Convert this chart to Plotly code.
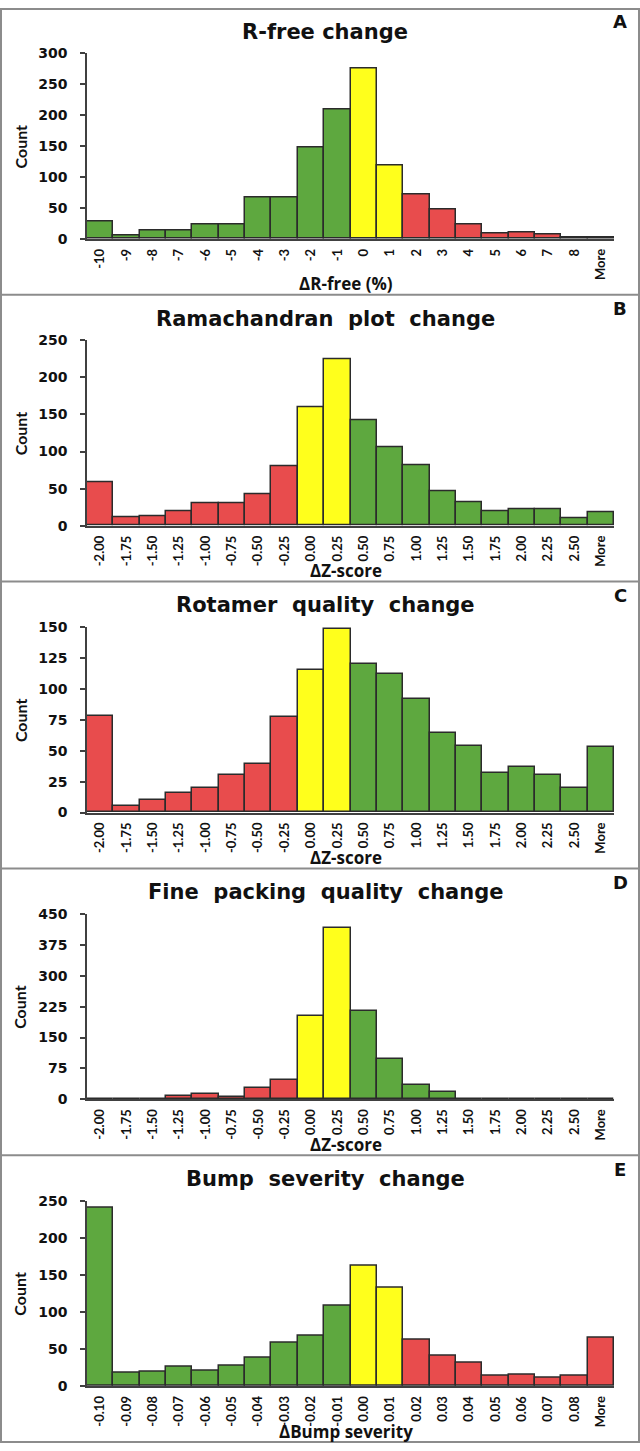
import plotly.graph_objects as go

W, H = 640, 1451

# ---------------- data ----------------
rfree_bins = ["-10", "-9", "-8", "-7", "-6", "-5", "-4", "-3", "-2", "-1",
              "0", "1", "2", "3", "4", "5", "6", "7", "8", "More"]
rfree_counts = [28, 6, 13, 14, 24, 24, 67, 67, 148, 209,
                275, 119, 72, 47, 23, 8, 10, 7, 2, 3]

z_bins = ["-2.00", "-1.75", "-1.50", "-1.25", "-1.00", "-0.75", "-0.50", "-0.25",
          "0.00", "0.25", "0.50", "0.75", "1.00", "1.25", "1.50", "1.75",
          "2.00", "2.25", "2.50", "More"]
rama_counts = [59, 12, 13, 19, 30, 30, 42, 80,
               160, 224, 142, 106, 82, 46, 31, 19, 22, 22, 10, 18]
rota_counts = [78, 5, 10, 16, 20, 30, 39, 77,
               115, 148, 120, 112, 92, 64, 54, 32, 37, 30, 20, 53]
pack_counts = [1, 1, 2, 9, 14, 6, 27, 46,
               202, 417, 215, 98, 36, 17, 2, 2, 0, 0, 0, 0]

bump_bins = ["-0.10", "-0.09", "-0.08", "-0.07", "-0.06", "-0.05", "-0.04",
             "-0.03", "-0.02", "-0.01", "0.00", "0.01", "0.02", "0.03",
             "0.04", "0.05", "0.06", "0.07", "0.08", "More"]
bump_counts = [241, 18, 19, 26, 21, 27, 38, 58, 68, 109,
               163, 133, 62, 41, 31, 14, 15, 12, 14, 65]

titles = ["R-free change", "Ramachandran  plot  change", "Rotamer  quality  change",
          "Fine  packing  quality  change", "Bump  severity  change"]
xtitles = ["ΔR-free (%)", "ΔZ-score", "ΔZ-score", "ΔZ-score", "ΔBump severity"]
letters = ["A", "B", "C", "D", "E"]

# ---------------- style ----------------
GREEN = "#5ea83f"
YELLOW = "#ffff1c"
RED = "#e84c4d"
EDGE = "#2b2b2b"
AXIS = "#404040"
TXT = "#111111"


def colors(n, yellow_start, left, right):
    return [left if i < yellow_start else (YELLOW if i < yellow_start + 2 else right)
            for i in range(n)]


panels = [
    (rfree_bins, rfree_counts, colors(20, 10, GREEN, RED), 300, 50),
    (z_bins, rama_counts, colors(20, 8, RED, GREEN), 250, 50),
    (z_bins, rota_counts, colors(20, 8, RED, GREEN), 150, 25),
    (z_bins, pack_counts, colors(20, 8, RED, GREEN), 450, 75),
    (bump_bins, bump_counts, colors(20, 10, GREEN, RED), 250, 50),
]


def py(p):
    return 1 - p / H


def px(p):
    return p / W


fig = go.Figure()
annotations = []
shapes = []
layout_axes = {}

X0, X1 = 87, 614
for k, (cats, vals, cols, ymax, dtick) in enumerate(panels):
    o = 290 * k
    sfx = "" if k == 0 else str(k + 1)
    fig.add_trace(go.Bar(
        x=cats, y=vals,
        marker=dict(color=cols, line=dict(color=EDGE, width=1.5)),
        xaxis="x" + sfx, yaxis="y" + sfx, showlegend=False,
    ))
    layout_axes["xaxis" + sfx] = dict(
        domain=[px(X0), px(X1)], anchor="y" + sfx, type="category",
        range=[-0.5, len(cats) - 0.5], showline=True, linecolor=AXIS, linewidth=1.5,
        ticks="", tickangle=-90, showgrid=False, zeroline=False,
        tickfont=dict(family="Lato", size=13, color=TXT, weight="bold"),
        ticklabelstandoff=3,
    )
    layout_axes["yaxis" + sfx] = dict(
        domain=[py(o + 233.5), py(o + 46)], anchor="x" + sfx,
        range=[0, ymax], dtick=dtick, tick0=0, showline=True, linecolor=AXIS,
        linewidth=1.5, ticks="outside", ticklen=5, tickwidth=1.5, tickcolor=AXIS,
        showgrid=False, zeroline=False,
        tickfont=dict(family="DejaVu Sans", size=14, color=TXT, weight="bold"),
        ticklabelstandoff=10,
    )
    # title
    annotations.append(dict(
        text=titles[k], x=px(325), y=py(o + 24), xref="paper", yref="paper",
        xanchor="center", yanchor="middle", showarrow=False,
        font=dict(family="DejaVu Sans", size=21, color=TXT, weight="bold"),
    ))
    # panel letter
    annotations.append(dict(
        text=letters[k], x=px(620), y=py(o + 14), xref="paper", yref="paper",
        xanchor="center", yanchor="middle", showarrow=False,
        font=dict(family="DejaVu Sans", size=18, color=TXT, weight="bold"),
    ))
    # x axis title
    annotations.append(dict(
        text=xtitles[k], x=px(346), y=py(o + 279), xref="paper", yref="paper",
        xanchor="center", yanchor="middle", showarrow=False,
        font=dict(family="Open Sans", size=17, color=TXT, weight="bold"),
    ))
    # y axis title
    annotations.append(dict(
        text="Count", x=px(20), y=py(o + 140), xref="paper", yref="paper",
        xanchor="center", yanchor="middle", showarrow=False, textangle=-90,
        font=dict(family="Lato", size=16, color=TXT, weight="bold"),
    ))
    if k > 0:
        shapes.append(dict(type="line", xref="paper", yref="paper",
                           x0=0, x1=1, y0=py(o), y1=py(o),
                           line=dict(color="#8c8c8c", width=2)))

shapes.append(dict(type="rect", xref="paper", yref="paper",
                   x0=px(1), x1=px(639), y0=py(1450), y1=py(1),
                   line=dict(color="#8c8c8c", width=2)))

fig.update_layout(
    width=W, height=H, margin=dict(l=0, r=0, t=0, b=0),
    paper_bgcolor="white", plot_bgcolor="white",
    bargap=0, annotations=annotations, shapes=shapes,
    **layout_axes,
)

fig.write_html(
    "out.html",
    config={"displayModeBar": False},
    post_script="document.body.style.margin='0';document.body.style.overflow='hidden';",
)
